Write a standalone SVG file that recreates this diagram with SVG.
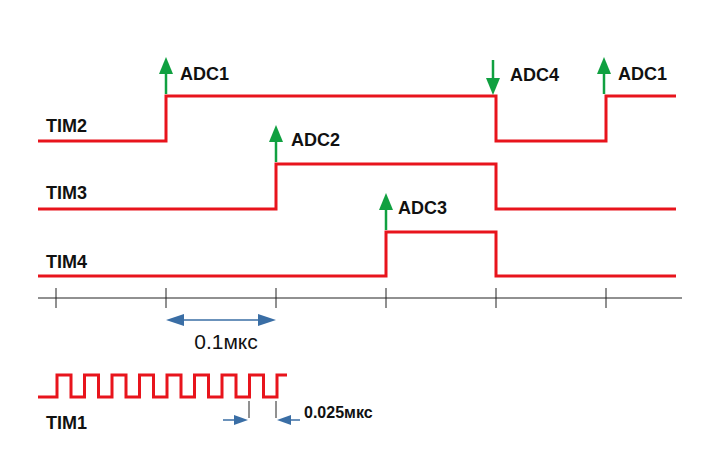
<svg xmlns="http://www.w3.org/2000/svg" width="715" height="465" viewBox="0 0 715 465">
<style>
.sig{fill:none;stroke:#e8141c;stroke-width:3}
.ax{fill:none;stroke:#222;stroke-width:1}
.lbl{font-family:"Liberation Sans",Arial,sans-serif;font-weight:bold;font-size:18px;fill:#111}
.g{fill:#10a040}
.gs{stroke:#10a040;stroke-width:2.5}
.b{stroke:#3a6ea5;stroke-width:1.5;fill:none}
.bf{fill:#3a6ea5}
</style>
<rect width="715" height="465" fill="#fff"/>
<g id="axis">
<path class="ax" d="M38 298H682M56 288V308M166 288V308M276 288V308M386 288V308M496 288V308M606 288V308"/>
</g>
<g id="TIM2"><text class="lbl" x="46" y="132">TIM2</text><path class="sig" d="M38 141H166V96H496V141H606V96H676"/></g>
<g id="TIM3"><text class="lbl" x="46" y="199">TIM3</text><path class="sig" d="M38 209H276V164H496V209H676"/></g>
<g id="TIM4"><text class="lbl" x="46" y="268">TIM4</text><path class="sig" d="M38 276H386V232H496V276H676"/></g>
<g id="TIM1"><text class="lbl" x="46" y="429">TIM1</text>
<path class="sig" d="M38 397H57V375H71V397H84.5V375H98.5V397H112V375H126V397H139.5V375H153.5V397H167V375H181V397H194.5V375H208.5V397H222V375H236V397H249.5V375H263.5V397H277V375H287"/></g>
<g id="connectors">
<line class="gs" x1="166" y1="94" x2="166" y2="72"/><polygon class="g" points="159,74 173,74 166,57"/>
<line class="gs" x1="276" y1="162" x2="276" y2="140"/><polygon class="g" points="269,142 283,142 276,125"/>
<line class="gs" x1="386" y1="230" x2="386" y2="208"/><polygon class="g" points="379,210 393,210 386,193"/>
<line class="gs" x1="493" y1="60" x2="493" y2="80"/><polygon class="g" points="486,78 500,78 493,95"/>
<line class="gs" x1="604" y1="94" x2="604" y2="72"/><polygon class="g" points="597,74 611,74 604,57"/>
<line class="b" x1="182" y1="320" x2="260" y2="320"/>
<polygon class="bf" points="166,320 184,314 184,326"/><polygon class="bf" points="276,320 258,314 258,326"/>
<path class="ax" d="M249 401V418M276 401V418"/>
<line class="b" x1="223" y1="420" x2="236" y2="420"/><polygon class="bf" points="248,420 234,415 234,425"/>
<line class="b" x1="300" y1="420" x2="290" y2="420"/><polygon class="bf" points="277,420 291,415 291,425"/>
</g>
<g id="labels">
<text class="lbl" x="180" y="80">ADC1</text>
<text class="lbl" x="291" y="146">ADC2</text>
<text class="lbl" x="398" y="214">ADC3</text>
<text class="lbl" x="510" y="81">ADC4</text>
<text class="lbl" x="618" y="80">ADC1</text>
<text x="226" y="349" text-anchor="middle" font-family="Liberation Sans,Arial,sans-serif" font-size="21" fill="#111">0.1мкс</text>
<text class="lbl" x="304" y="418" style="font-size:16px">0.025мкс</text>
</g>
</svg>
